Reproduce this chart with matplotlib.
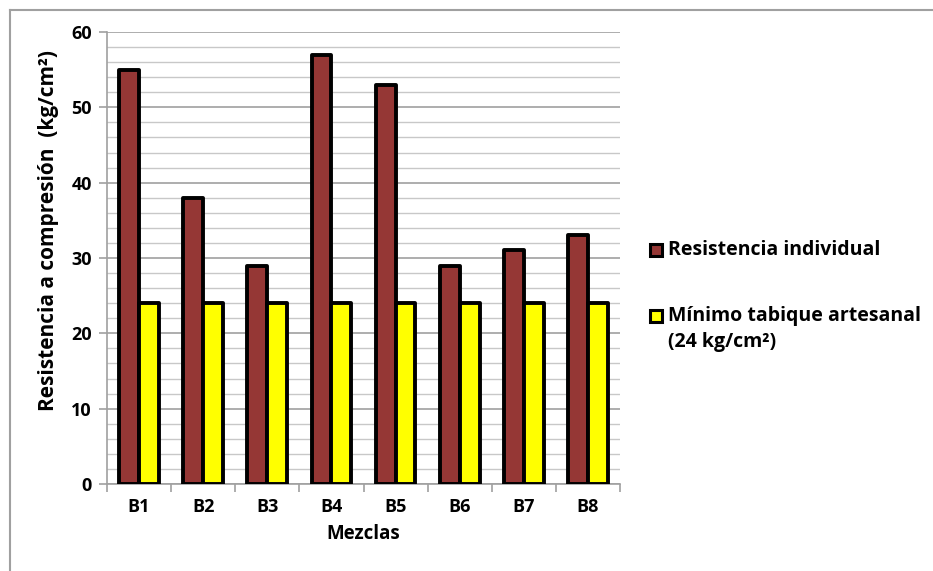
import matplotlib
matplotlib.use("Agg")
import matplotlib.pyplot as plt
import numpy as np
from matplotlib.patches import Rectangle
from matplotlib.lines import Line2D
from matplotlib.ticker import MultipleLocator

plt.rcParams['font.family'] = ['Open Sans', 'DejaVu Sans']

categories = ["B1", "B2", "B3", "B4", "B5", "B6", "B7", "B8"]
resistencia = [55, 38, 29, 57, 53, 29, 31, 33]
minimo = [24, 24, 24, 24, 24, 24, 24, 24]
series_labels = [["Resistencia individual"], ["Mínimo tabique artesanal", "(24 kg/cm²)"]]
colors = ["#953735", "#FFFF00"]

fig = plt.figure(figsize=(9.33, 5.71), dpi=100)
ax = fig.add_axes([107/933, 1-484/571, 513/933, 452/571])

x = np.arange(len(categories))
w = 0.31
ax.bar(x - w/2, resistencia, w, color=colors[0], edgecolor="black", linewidth=2.8, zorder=3, joinstyle='round')
ax.bar(x + w/2, minimo, w, color=colors[1], edgecolor="black", linewidth=2.8, zorder=3, joinstyle='round')

ax.set_xlim(-0.5, len(categories) - 0.5)
ax.set_ylim(0, 60)
ax.yaxis.set_major_locator(MultipleLocator(10))
ax.yaxis.set_minor_locator(MultipleLocator(2))
ax.grid(axis='y', which='major', color='#a0a0a0', linewidth=1.2, zorder=0)
ax.grid(axis='y', which='minor', color='#c8c8c8', linewidth=1.0, zorder=0)
ax.set_axisbelow(True)

ax.set_xticks(x)
ax.set_xticklabels(categories, fontsize=13, fontweight='bold')
ax.set_xticks(np.arange(-0.5, len(categories)), minor=True)
ax.tick_params(axis='x', which='major', length=0, pad=10)
ax.tick_params(axis='x', which='minor', length=6, color='#a0a0a0', width=1.2, direction='out')
ax.tick_params(axis='y', which='major', length=6, color='#a0a0a0', width=1.2, labelsize=13, pad=5)
ax.tick_params(axis='y', which='minor', length=0)
for lab in ax.get_yticklabels():
    lab.set_fontweight('bold')

for s in ['top', 'right']:
    ax.spines[s].set_visible(False)
for s in ['left', 'bottom']:
    ax.spines[s].set_color('#a0a0a0')
    ax.spines[s].set_linewidth(1.2)

ax.set_xlabel("Mezclas", fontsize=13.5, fontweight='bold', labelpad=6)
ax.set_ylabel("Resistencia a compresión  (kg/cm²)", fontsize=15, fontweight='bold')
ax.yaxis.set_label_coords(-0.094, 0.56)

# legend drawn manually
row_y = [250, 316]
line_gap = 26
for lines, col, ry in zip(series_labels, colors, row_y):
    yy = 1 - ry/571
    fig.patches.append(Rectangle((650/933, yy - 6/571), 12/933, 12/571, transform=fig.transFigure,
                                 facecolor=col, edgecolor='black', linewidth=2.2))
    for i, ln in enumerate(lines):
        fig.text(668/933, 1 - (ry + i*line_gap)/571, ln, fontsize=14, fontweight='bold',
                 va='center', ha='left')

# outer border (top and left visible)
fig.add_artist(Line2D([10/933, 1], [1-10/571, 1-10/571], transform=fig.transFigure, color='#a0a0a0', linewidth=1.5))
fig.add_artist(Line2D([10/933, 10/933], [0, 1-10/571], transform=fig.transFigure, color='#a0a0a0', linewidth=1.5))

fig.savefig("out.png", dpi=100, facecolor='white')
